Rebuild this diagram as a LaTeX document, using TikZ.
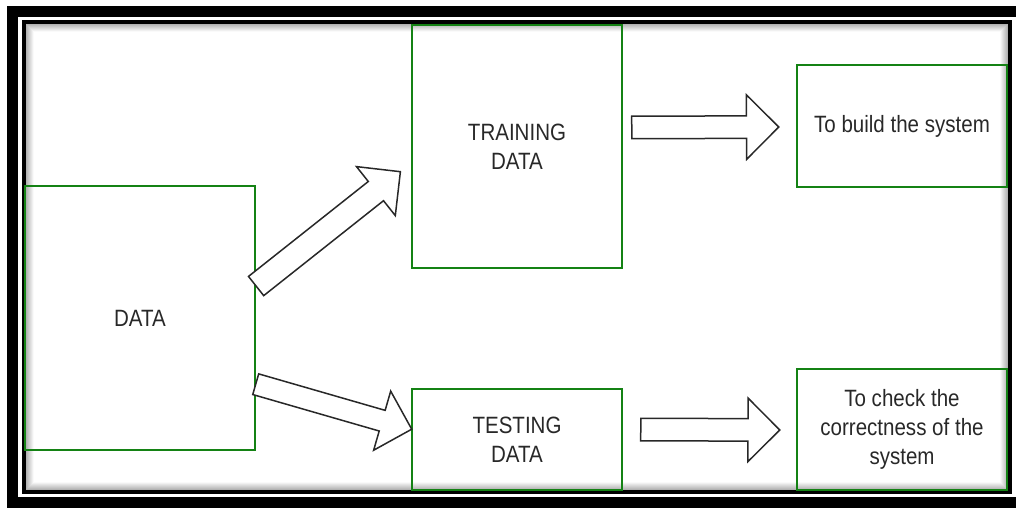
\documentclass[tikz,border=0pt]{standalone}
\usepackage{fontspec}
\setmainfont{Liberation Sans}[FakeStretch=0.87]
\usetikzlibrary{shapes.arrows,calc}

\definecolor{boxgreen}{RGB}{20,130,20}
\definecolor{inkgray}{RGB}{40,40,40}

\tikzset{
  box/.style={draw=boxgreen,line width=1pt,rectangle,align=center,text=inkgray,font=\fontsize{11.8}{14.5}\selectfont},
  fatarrow/.style={single arrow,draw=inkgray,fill=white,line width=0.75pt,inner xsep=0pt,minimum width=0pt,single arrow tip angle=90,anchor=tail}
}

% block arrow: tail, tip, half shaft width, head extend
\newcommand{\blockarrow}[4]{%
  \path let \p1=($(#2)-(#1)$), \n1={atan2(\y1,\x1)}, \n2={veclen(\x1,\y1)} in
    node[fatarrow,inner ysep=#3,single arrow head extend=#4,minimum height=\n2,rotate=\n1] at (#1) {};%
}

\begin{document}
\begin{tikzpicture}[x=0.5pt,y=-0.5pt]
            \useasboundingbox (0,0) rectangle (1016,508);
            \clip (0,0) rectangle (1016,508);

            % frame
            \draw[line width=5.5pt] (12,11.5) rectangle (1030,502.5);
            \draw[line width=2pt] (24,22.5) rectangle (1010,492);
            \foreach \i in {1,...,8}{
              \pgfmathsetmacro\op{0.34-0.04*\i}
              \draw[black,opacity=\op,line width=0.5pt] ({25.5+\i},{23.5+\i}) rectangle ({1008.5-\i},{490.5-\i});
            }

            \node[box,minimum width=115pt,minimum height=132pt] (data) at (140,318) {DATA};
            \node[box,minimum width=105pt,minimum height=121.5pt] (train) at (517,146.5) {TRAINING\\DATA};
            \node[box,minimum width=105pt,minimum height=61pt] (build) at (902,126) {To build the system};
            \node[box,minimum width=105pt,minimum height=50.5pt] (test) at (517,439.5) {TESTING\\DATA};
            \node[box,minimum width=105pt,minimum height=60.5pt] (check) at (902,429.5) {To check the\\correctness of the\\system};

            \coordinate (uptail) at (255.5,286.5);
            \coordinate (uptip) at (400,172);
            \coordinate (downtail) at (255,384);
            \coordinate (downtip) at (411,429);
            \coordinate (buildtail) at (631,127.5);
            \coordinate (buildtip) at (778,127);
            \coordinate (checktail) at (640,429.5);
            \coordinate (checktip) at (779,430);

            \blockarrow{uptail}{uptip}{5.75pt}{9.5pt}
            \blockarrow{downtail}{downtip}{5pt}{10pt}
            \blockarrow{buildtail}{buildtip}{5.25pt}{10.5pt}
            \blockarrow{checktail}{checktip}{5.25pt}{10.25pt}
          \end{tikzpicture}
\end{document}
